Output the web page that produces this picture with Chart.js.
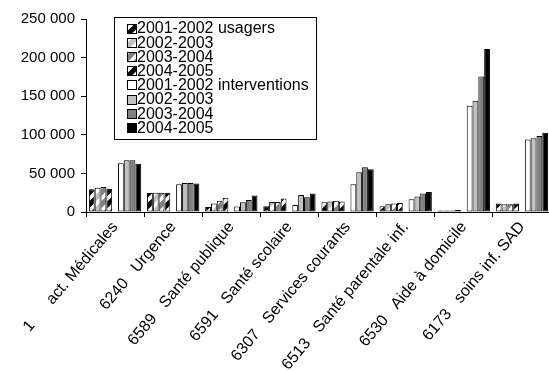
<!DOCTYPE html>
<html>
<head>
<meta charset="utf-8">
<script src="https://cdn.jsdelivr.net/npm/chart.js@4.4.1/dist/chart.umd.min.js"></script>
<style>
  html, body { margin: 0; padding: 0; background: #fff; overflow: hidden; }
  #wrap { width: 551px; height: 371px; }
</style>
</head>
<body>
<div id="wrap"><canvas id="chart" width="551" height="371"></canvas></div>
<script>
// categories (code + label), gap made of no-break spaces so it is kept
const GAP = '\u00A0\u00A0\u00A0';
const categories = [
    '1' + GAP + GAP + 'act. Médicales',
    '6240' + GAP + 'Urgence',
    '6589' + GAP + 'Santé publique',
    '6591' + GAP + 'Santé scolaire',
    '6307' + GAP + 'Services courants',
    '6513' + GAP + 'Santé parentale inf.',
    '6530' + GAP + 'Aide à domicile',
    '6173' + GAP + 'soins inf. SAD'
];

// usagers (hatched series)
const usagers0102 = [29500, 24500, 6500, 7500, 12500, 7500, 2000, 11000];
const usagers0203 = [31500, 25000, 11000, 13000, 13500, 10000, 2000, 10000];
const usagers0304 = [32500, 25000, 14500, 13000, 14500, 11000, 2000, 10000];
const usagers0405 = [30000, 25000, 18500, 17500, 13500, 11500, 2500, 11000];

// interventions (plain series)
const interv0102 = [63000, 36000, 7000, 9000, 36000, 16500, 137500, 94000];
const interv0203 = [67000, 37500, 12500, 22000, 51500, 20000, 144000, 95500];
const interv0304 = [67000, 37500, 15500, 19000, 58000, 24000, 175500, 98500];
const interv0405 = [62500, 37000, 21500, 24000, 55500, 26000, 211000, 102500];

const seriesLabels = [
    '2001-2002 usagers', '2002-2003', '2003-2004', '2004-2005',
    '2001-2002 interventions', '2002-2003', '2003-2004', '2004-2005'
];

const FONT = "'Liberation Sans', Arial, sans-serif";

/** Wide "/" diagonal hatch, coloured + white
 */
function hatch(colour, phase) {
    const size = 12;
    const c = document.createElement('canvas');
    c.width = size; c.height = size;
    const x = c.getContext('2d');
    x.fillStyle = colour;
    x.fillRect(0, 0, size, size);
    x.strokeStyle = '#fff';
    x.lineWidth = 3.5;
    for (let k = -1; k <= 1; k++) {
        const o = k * size + phase;
        x.beginPath();
        x.moveTo(o - 2, size + 2);
        x.lineTo(o + size + 2, -2);
        x.stroke();
    }
    return x.createPattern(c, 'repeat');
}

function makeSet(label, data, fill) {
    return {
        label: label,
        data: data,
        backgroundColor: fill,
        borderColor: '#000',
        borderWidth: 1,
        borderSkipped: false,
        categoryPercentage: 0.9,
        barPercentage: 1.0
    };
}

const datasets = [
    makeSet(seriesLabels[0], usagers0102, hatch('#000', 0)),
    makeSet(seriesLabels[1], usagers0203, hatch('#c0c0c0', 0)),
    makeSet(seriesLabels[2], usagers0304, hatch('#808080', 0)),
    makeSet(seriesLabels[3], usagers0405, hatch('#000', 6)),
    // empty slot between the two groups of bars
    Object.assign(makeSet('', categories.map(() => null), 'rgba(0,0,0,0)'), {spacer: true}),
    makeSet(seriesLabels[4], interv0102, '#fff'),
    makeSet(seriesLabels[5], interv0203, '#c0c0c0'),
    makeSet(seriesLabels[6], interv0304, '#808080'),
    makeSet(seriesLabels[7], interv0405, '#000')
];

// boxed legend inside the plot area
const boxLegend = {
    id: 'boxLegend',
    afterDraw: function (chart) {
        const ctx = chart.ctx;
        const area = chart.chartArea;
        const left = area.left + 28, top = area.top - 2;
        const w = 202, h = 122, row = 14.2;
        ctx.save();
        ctx.fillStyle = '#fff';
        ctx.fillRect(left, top, w, h);
        ctx.strokeStyle = '#000';
        ctx.lineWidth = 1;
        ctx.strokeRect(left + 0.5, top + 0.5, w, h);
        ctx.font = '16px ' + FONT;
        ctx.textBaseline = 'middle';
        let i = 0;
        chart.data.datasets.forEach(function (ds) {
            if (ds.spacer) return;
            const cy = top + 11 + row * i;
            ctx.fillStyle = ds.backgroundColor;
            ctx.fillRect(left + 13, Math.round(cy - 4.5), 9, 9);
            ctx.strokeRect(left + 13.5, Math.round(cy - 4.5) + 0.5, 9, 9);
            ctx.fillStyle = '#000';
            ctx.fillText(ds.label, left + 23, cy + 1);
            i += 1;
        });
        ctx.restore();
    }
};

function spaced(v) {
    return String(v).replace(/\B(?=(\d{3})+(?!\d))/g, ' ');
}

new Chart(document.getElementById('chart').getContext('2d'), {
    type: 'bar',
    data: {
        labels: categories,
        datasets: datasets
    },
    options: {
        responsive: false,
        animation: false,
        devicePixelRatio: 1,
        layout: {padding: {top: 19, right: 0, left: 0, bottom: 0}},
        plugins: {
            legend: {display: false},
            tooltip: {enabled: false}
        },
        scales: {
            x: {
                grid: {drawOnChartArea: false, drawTicks: true, tickLength: 5, color: '#000', offset: true},
                border: {color: '#000', width: 1},
                ticks: {
                    color: '#000',
                    font: {family: FONT, size: 16},
                    minRotation: 50,
                    maxRotation: 50,
                    autoSkip: false,
                    padding: 1
                },
                afterFit: function (scale) { scale.height = 159; }
            },
            y: {
                min: 0,
                max: 250000,
                grid: {drawOnChartArea: false, drawTicks: true, tickLength: 5, color: '#000'},
                border: {color: '#000', width: 1},
                ticks: {
                    stepSize: 50000,
                    color: '#000',
                    font: {family: FONT, size: 15},
                    padding: 6,
                    callback: function (v) { return spaced(v); }
                },
                afterFit: function (scale) { scale.width = 86; }
            }
        }
    },
    plugins: [boxLegend]
});
</script>
</body>
</html>
